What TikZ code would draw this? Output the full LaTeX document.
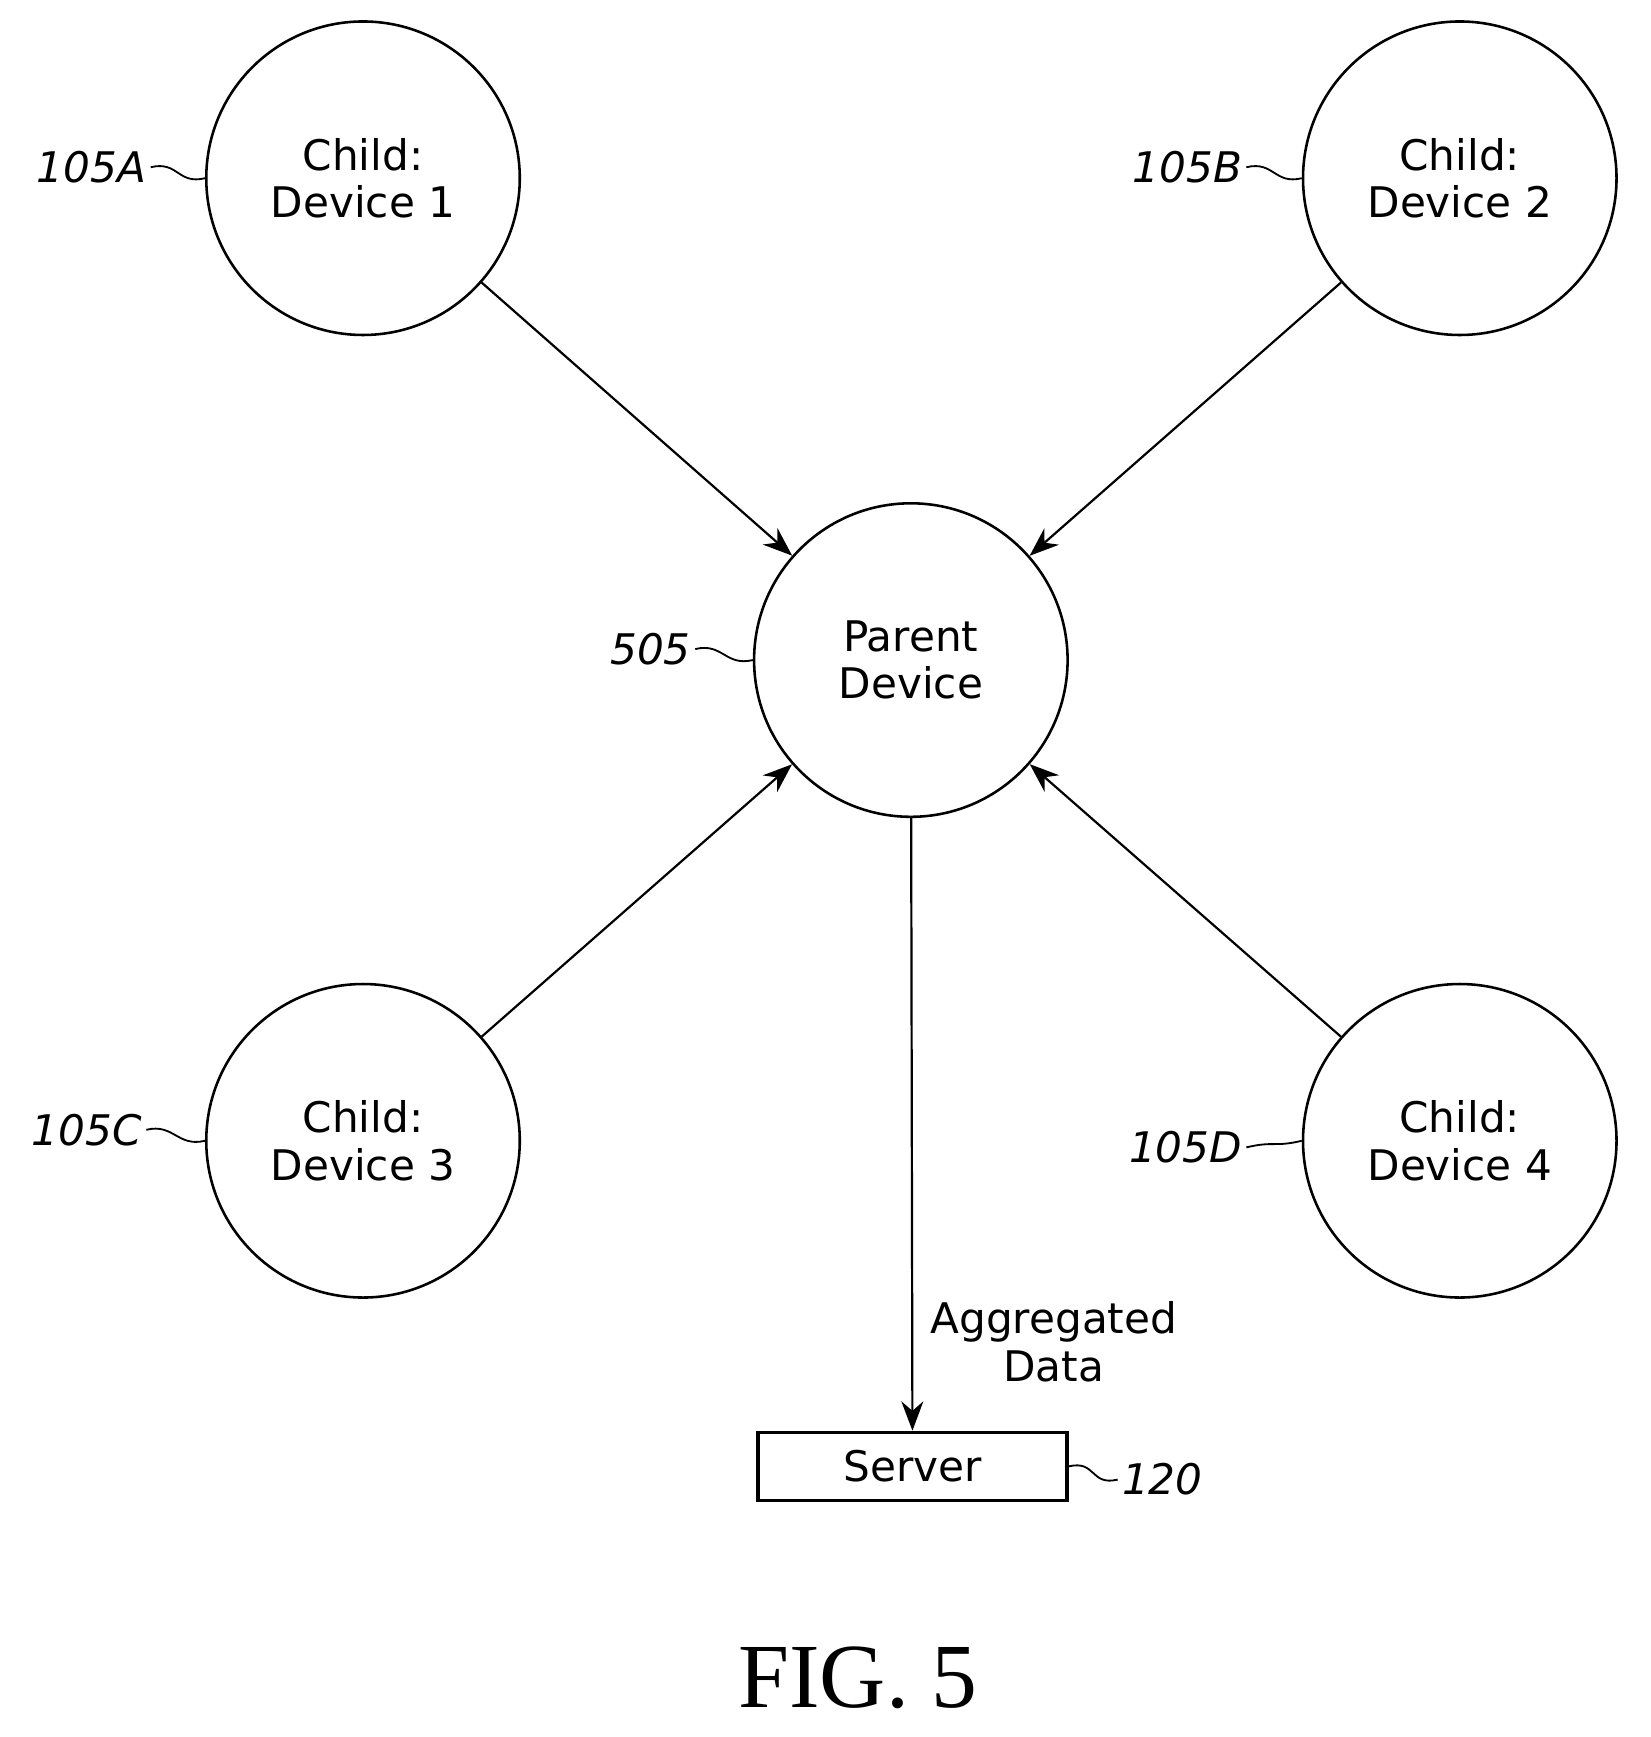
\documentclass[tikz,border=0pt]{standalone}
\usepackage{fontspec}
\setmainfont{DejaVu Sans}
\newfontfamily\figfont{Liberation Serif}
\usetikzlibrary{arrows.meta}
\begin{document}
\begin{tikzpicture}[x=0.3pt,y=-0.3pt,
  dev/.style={circle,draw,line width=0.7pt,minimum size=85.5pt,inner sep=0pt,align=center,font=\fontsize{11.5}{13}\selectfont},
  lab/.style={font=\fontsize{11.5}{13}\selectfont\itshape,inner sep=1pt},
  arr/.style={line width=0.6pt,-{Stealth[length=8pt,width=6pt]}},
  sq/.style={line width=0.5pt}]
\useasboundingbox (0,0) rectangle (1500,1579);
\node[dev] (c1) at (330,162) {Child:\\Device 1};
\node[dev] (c2) at (1327,162) {Child:\\Device 2};
\node[dev] (p) at (828,600) {Parent\\Device};
\node[dev] (c3) at (330,1037) {Child:\\Device 3};
\node[dev] (c4) at (1327,1037) {Child:\\Device 4};
\node[draw,line width=0.9pt,minimum width=84.3pt,minimum height=18.6pt,inner sep=0pt,font=\fontsize{11.5}{13}\selectfont] (s) at (829.5,1333) {Server};
\draw[arr] (c1) -- (p);
\draw[arr] (c2) -- (p);
\draw[arr] (c3) -- (p);
\draw[arr] (c4) -- (p);
\draw[arr] (p) -- (s);
\node[align=center,font=\fontsize{11.5}{13}\selectfont] (ag) at (958,1220) {Aggregated\\Data};
\node[lab,anchor=east] (l1) at (137,152) {105A};
\node[lab,anchor=east] (l2) at (1133,152) {105B};
\node[lab,anchor=east] (l5) at (632,590) {505};
\node[lab,anchor=east] (l3) at (133,1027) {105C};
\node[lab,anchor=east] (l4) at (1133,1043) {105D};
\node[lab,anchor=west] (l6) at (1016,1345) {120};
\draw[sq] (l1.east) .. controls +(25,-6) and +(-25,6) .. (c1.west);
\draw[sq] (l2.east) .. controls +(25,-6) and +(-25,6) .. (c2.west);
\draw[sq] (l5.east) .. controls +(25,-6) and +(-25,6) .. (p.west);
\draw[sq] (l3.east) .. controls +(25,-6) and +(-25,6) .. (c3.west);
\draw[sq] (l4.east) .. controls +(25,-6) and +(-25,6) .. (c4.west);
\draw[sq] (s.east) .. controls +(25,-6) and +(-25,6) .. (l6.west);
\node[font=\figfont\fontsize{25}{28}\selectfont] (fig) at (780,1525) {FIG. 5};
\end{tikzpicture}
\end{document}
